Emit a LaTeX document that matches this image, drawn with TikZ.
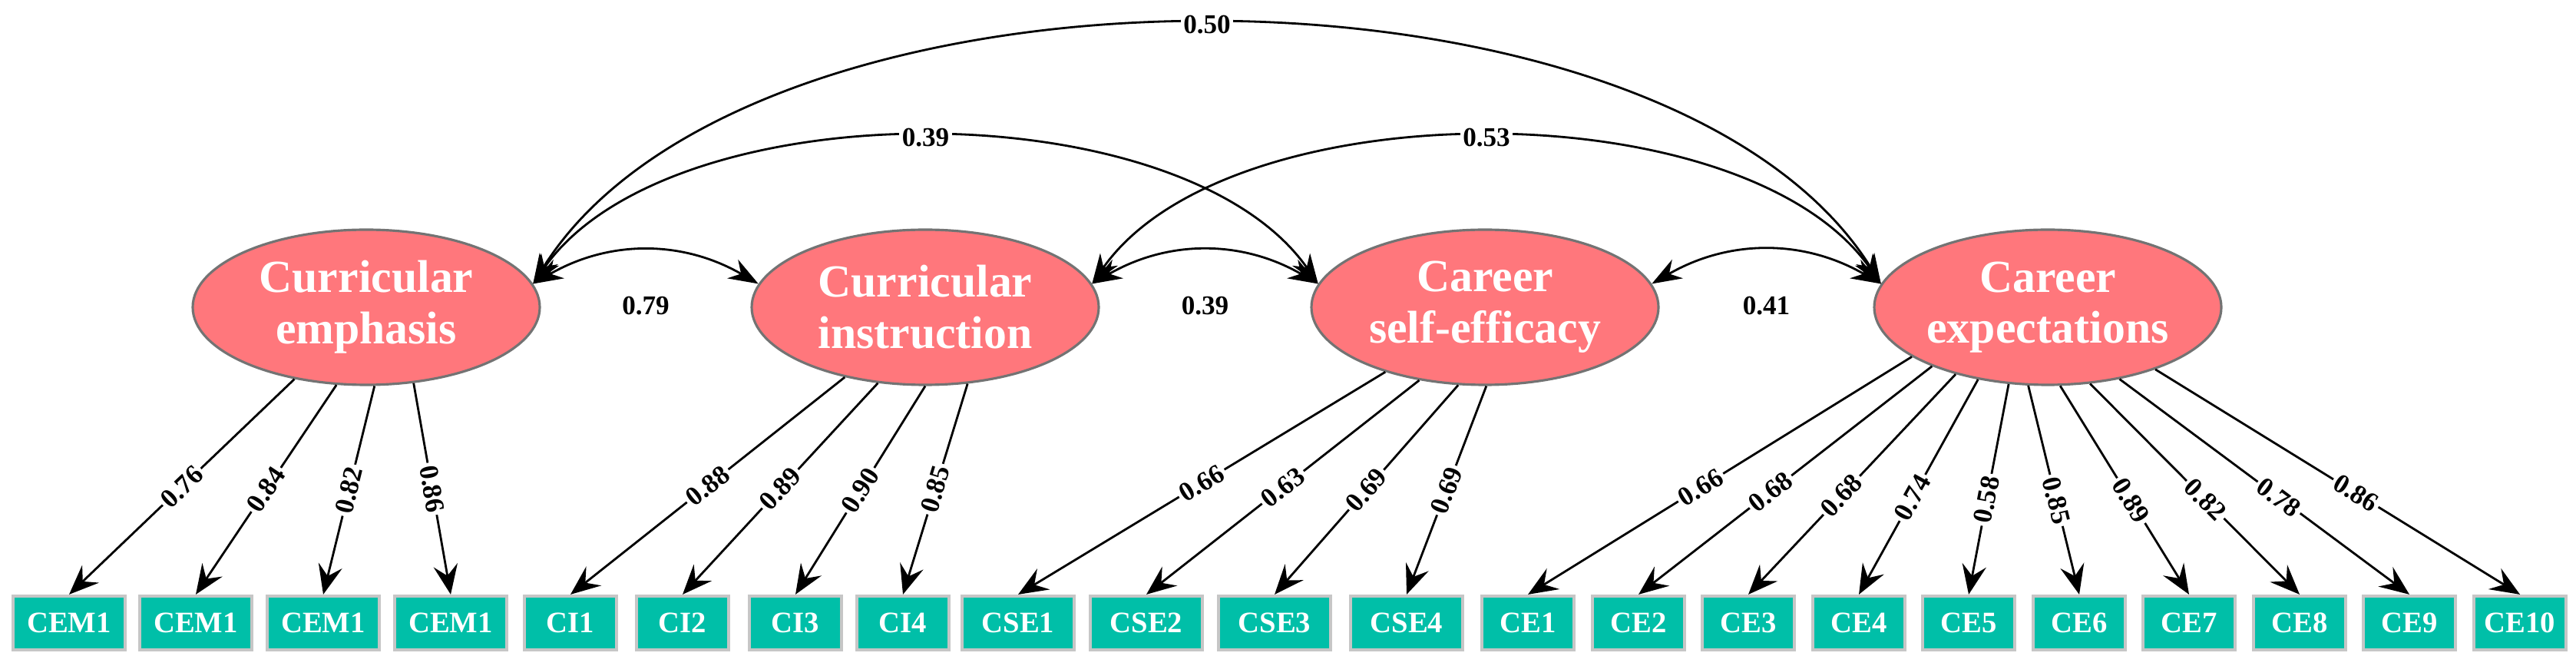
\documentclass[tikz,border=0pt]{standalone}
\usepackage{fontspec}
\setmainfont{Liberation Serif}
\usetikzlibrary{arrows.meta,shapes.geometric}
\definecolor{latfill}{HTML}{FF777C}
\definecolor{boxfill}{HTML}{00BFA8}
\begin{document}
\begin{tikzpicture}[
  lat/.style={ellipse,draw=gray!90!black,line width=0.9pt,fill=latfill,minimum width=4.52cm,minimum height=2.02cm,inner sep=0pt,align=center,text=white,font=\fontsize{17}{19}\selectfont\bfseries},
  obs/.style={rectangle,draw=gray!45,line width=1.2pt,fill=boxfill,minimum height=0.7cm,inner sep=0pt,text=white,font=\fontsize{11}{12}\selectfont\bfseries},
  wide/.style={obs,minimum width=1.46cm},
  narrow/.style={obs,minimum width=1.2cm},
  load/.style={-{Stealth[length=11pt,width=9pt,inset=4pt]},line width=0.8pt},
  cor/.style={{Stealth[length=11pt,width=8pt]}-{Stealth[length=11pt,width=8pt]},line width=0.8pt},
  lab/.style={font=\fontsize{10}{11}\selectfont\bfseries,fill=white,inner sep=1pt},
  ll/.style={pos=0.5,sloped,lab}
]
\useasboundingbox (0,0) rectangle (33.55,8.66);
% latent variables
\node[lat] (cem) at (4.77,4.66) {Curricular\\emphasis};
\node[lat] (ci) at (12.05,4.66) {Curricular\\instruction};
\node[lat] (cse) at (19.34,4.66) {Career\\self-efficacy};
\node[lat] (cex) at (26.67,4.66) {Career\\expectations};
% observed variables
\node[wide] (cem1) at (0.90,0.55) {CEM1};
\node[wide] (cem2) at (2.55,0.55) {CEM1};
\node[wide] (cem3) at (4.21,0.55) {CEM1};
\node[wide] (cem4) at (5.87,0.55) {CEM1};
\node[narrow] (ci1) at (7.43,0.55) {CI1};
\node[narrow] (ci2) at (8.89,0.55) {CI2};
\node[narrow] (ci3) at (10.36,0.55) {CI3};
\node[narrow] (ci4) at (11.76,0.55) {CI4};
\node[wide] (cse1) at (13.26,0.55) {CSE1};
\node[wide] (cse2) at (14.93,0.55) {CSE2};
\node[wide] (cse3) at (16.60,0.55) {CSE3};
\node[wide] (cse4) at (18.32,0.55) {CSE4};
\node[narrow] (ce1) at (19.90,0.55) {CE1};
\node[narrow] (ce2) at (21.34,0.55) {CE2};
\node[narrow] (ce3) at (22.77,0.55) {CE3};
\node[narrow] (ce4) at (24.21,0.55) {CE4};
\node[narrow] (ce5) at (25.64,0.55) {CE5};
\node[narrow] (ce6) at (27.08,0.55) {CE6};
\node[narrow] (ce7) at (28.51,0.55) {CE7};
\node[narrow] (ce8) at (29.95,0.55) {CE8};
\node[narrow] (ce9) at (31.38,0.55) {CE9};
\node[narrow] (ce10) at (32.82,0.55) {CE10};
% loadings
\draw[load] (cem.225) -- node[ll]{0.76} (cem1.north);
\draw[load] (cem.249) -- node[ll]{0.84} (cem2.north);
\draw[load] (cem.276) -- node[ll]{0.82} (cem3.north);
\draw[load] (cem.302) -- node[ll]{0.86} (cem4.north);
\draw[load] (ci.221) -- node[ll]{0.88} (ci1.north);
\draw[load] (ci.238) -- node[ll]{0.89} (ci2.north);
\draw[load] (ci.270) -- node[ll]{0.90} (ci3.north);
\draw[load] (ci.299) -- node[ll]{0.85} (ci4.north);
\draw[load] (cse.213) -- node[ll]{0.66} (cse1.north);
\draw[load] (cse.228) -- node[ll]{0.63} (cse2.north);
\draw[load] (cse.251) -- node[ll]{0.69} (cse3.north);
\draw[load] (cse.271) -- node[ll]{0.69} (cse4.north);
\draw[load] (cex.200) -- node[ll,pos=0.55]{0.66} (ce1.north);
\draw[load] (cex.207) -- node[ll,pos=0.55]{0.68} (ce2.north);
\draw[load] (cex.216) -- node[ll,pos=0.55]{0.68} (ce3.north);
\draw[load] (cex.226) -- node[ll,pos=0.55]{0.74} (ce4.north);
\draw[load] (cex.243) -- node[ll,pos=0.55]{0.58} (ce5.north);
\draw[load] (cex.256) -- node[ll,pos=0.55]{0.85} (ce6.north);
\draw[load] (cex.279) -- node[ll,pos=0.55]{0.89} (ce7.north);
\draw[load] (cex.299) -- node[ll,pos=0.55]{0.82} (ce8.north);
\draw[load] (cex.315) -- node[ll,pos=0.55]{0.78} (ce9.north);
\draw[load] (cex.330) -- node[ll,pos=0.55]{0.86} (ce10.north);
% correlations
\draw[cor] (cem.8) to[bend left=30] node[midway,below=0.55cm,lab]{0.79} (ci.172);
\draw[cor] (ci.8) to[bend left=30] node[midway,below=0.55cm,lab]{0.39} (cse.172);
\draw[cor] (cse.8) to[bend left=30] node[midway,below=0.55cm,lab]{0.41} (cex.172);
\draw[cor] (cem.8) .. controls +(55:3.1) and +(125:3.1) .. node[pos=0.5,lab]{0.39} (cse.172);
\draw[cor] (ci.8) .. controls +(55:3.1) and +(125:3.1) .. node[pos=0.5,lab]{0.53} (cex.172);
\draw[cor] (cem.8) .. controls +(58:5.3) and +(122:5.3) .. node[pos=0.5,lab]{0.50} (cex.172);
\end{tikzpicture}
\end{document}
